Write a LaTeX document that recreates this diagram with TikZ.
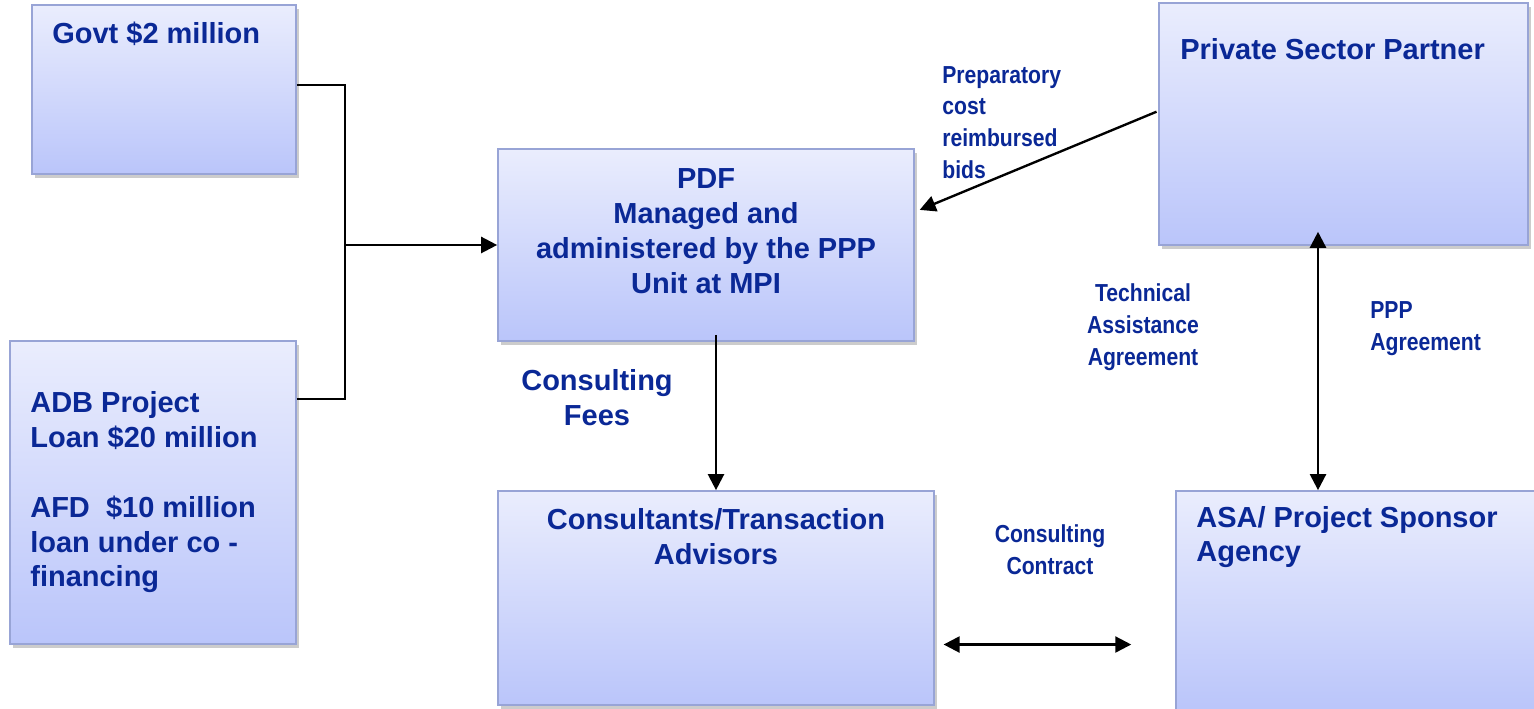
\documentclass[tikz,border=0pt]{standalone}
\usepackage{fontspec}
\setmainfont{Liberation Sans}
\newfontfamily\narrowsf[FakeStretch=0.86]{Liberation Sans}
\usetikzlibrary{positioning,shadows,arrows.meta}

\definecolor{boxtop}{RGB}{234,237,253}
\definecolor{boxbottom}{RGB}{186,197,250}
\definecolor{boxline}{RGB}{152,164,214}
\definecolor{textblue}{RGB}{10,40,150}

\tikzset{
  fundbox/.style={draw=boxline, line width=1pt, top color=boxtop, bottom color=boxbottom,
    drop shadow={shadow xshift=1.5pt, shadow yshift=-2.5pt, opacity=0.4}},
  boxtext/.style={text=textblue, inner sep=0pt, font=\fontsize{16.5}{19.8}\selectfont\bfseries},
  linktext/.style={text=textblue, inner sep=0pt, font=\narrowsf\fontsize{14}{18.1}\selectfont\bfseries},
  flow/.style={line width=1.35pt, -{Triangle[length=0.32cm,width=0.32cm]}},
  twoway/.style={line width=1.35pt, {Triangle[length=0.32cm,width=0.32cm]}-{Triangle[length=0.32cm,width=0.32cm]}}
}

\begin{document}
\begin{tikzpicture}[x=0.02cm, y=-0.02cm]
	\useasboundingbox (0,0) rectangle (1534,709);

	% boxes
	\node[fundbox, minimum width=5.28cm, minimum height=3.38cm] (govt) at (164,89.5) {};
	\node[fundbox, minimum width=5.72cm, minimum height=6.06cm] (adb) at (153,492.5) {};
	\node[fundbox, minimum width=8.32cm, minimum height=3.84cm] (pdf) at (706,245) {};
	\node[fundbox, minimum width=7.38cm, minimum height=4.84cm] (private) at (1343.5,124) {};
	\node[fundbox, minimum width=8.72cm, minimum height=4.28cm] (consult) at (716,598) {};
	\node[fundbox, minimum width=7.2cm, minimum height=4.4cm] (asa) at (1356,601) {};

	% box texts
	\node[boxtext, anchor=west] (govttext) at (52,34) {Govt \$2 million};
	\node[boxtext, align=center] (pdftext) at (706,231) {PDF\\Managed and\\administered by the PPP\\Unit at MPI};
	\node[boxtext, anchor=west] (privtext) at (1180,49) {Private Sector Partner};
	\node[boxtext, align=left, anchor=west] (adbtext) at (30,492.5) {ADB Project\\Loan \$20 million\\[19.8pt]AFD\ \ \$10 million\\loan under co -\\financing};
	\node[boxtext, align=center] (consulttext) at (716,537) {Consultants/Transaction\\Advisors};
	\node[boxtext, align=left, anchor=west] (asatext) at (1196,537) {ASA/ Project Sponsor\\Agency};

	% connector labels
	\node[linktext, align=left, anchor=west] (prep) at (942,122.5) {Preparatory\\cost\\reimbursed\\bids};
	\node[linktext, align=center] (tech) at (1143,327) {Technical\\Assistance\\Agreement};
	\node[linktext, align=left, anchor=west] (ppp) at (1370,329) {PPP\\Agreement};
	\node[boxtext, align=center] (fees) at (597,398) {Consulting\\Fees};
	\node[linktext, align=center] (contract) at (1050,549.5) {Consulting\\Contract};

	% connectors
	\coordinate (join) at (345,245);
	\draw[line width=1.35pt] (govt.2) -| (join);
	\draw[line width=1.35pt] (adb.33.5) -| (join);
	\draw[flow] (join) -- (pdf.west);
	\draw[flow, shorten <=1pt, shorten >=3pt] (private.176) -- (pdf.9.6);
	\draw[flow, shorten <=-4pt] (pdf.south -| consult.north) -- (consult.north);
	\draw[twoway, shorten <=-8pt] ([xshift=-0.51cm]private.south) -- ([xshift=-0.51cm]private.south |- asa.north);
	\draw[twoway, shorten <=5pt, shorten >=25pt] (consult.-12.9) -- (consult.-12.9 -| asa.west);
\end{tikzpicture}
\end{document}
